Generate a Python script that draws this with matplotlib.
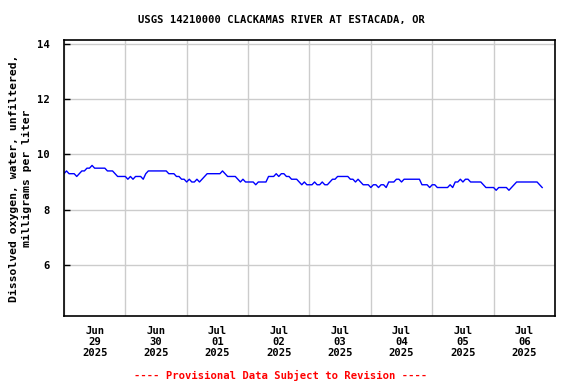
import numpy as np
import pandas as pd
import matplotlib
matplotlib.use('Agg')
import matplotlib.pyplot as plt
import matplotlib.dates as mdates

# Hourly dissolved oxygen (mg/L), starting 2025-06-29 00:00
do_values = [
    9.3, 9.4, 9.3, 9.3, 9.3, 9.2, 9.3, 9.4, 9.4, 9.5, 9.5, 9.6, 9.5, 9.5, 9.5, 9.5,
    9.5, 9.4, 9.4, 9.4, 9.3, 9.2, 9.2, 9.2, 9.2, 9.1, 9.2, 9.1, 9.2, 9.2, 9.2, 9.1,
    9.3, 9.4, 9.4, 9.4, 9.4, 9.4, 9.4, 9.4, 9.4, 9.3, 9.3, 9.3, 9.2, 9.2, 9.1, 9.1,
    9.0, 9.1, 9.0, 9.0, 9.1, 9.0, 9.1, 9.2, 9.3, 9.3, 9.3, 9.3, 9.3, 9.3, 9.4, 9.3,
    9.2, 9.2, 9.2, 9.2, 9.1, 9.0, 9.1, 9.0, 9.0, 9.0, 9.0, 8.9, 9.0, 9.0, 9.0, 9.0,
    9.2, 9.2, 9.2, 9.3, 9.2, 9.3, 9.3, 9.2, 9.2, 9.1, 9.1, 9.1, 9.0, 8.9, 9.0, 8.9,
    8.9, 8.9, 9.0, 8.9, 8.9, 9.0, 8.9, 8.9, 9.0, 9.1, 9.1, 9.2, 9.2, 9.2, 9.2, 9.2,
    9.1, 9.1, 9.0, 9.1, 9.0, 8.9, 8.9, 8.9, 8.8, 8.9, 8.9, 8.8, 8.9, 8.9, 8.8, 9.0,
    9.0, 9.0, 9.1, 9.1, 9.0, 9.1, 9.1, 9.1, 9.1, 9.1, 9.1, 9.1, 8.9, 8.9, 8.9, 8.8,
    8.9, 8.9, 8.8, 8.8, 8.8, 8.8, 8.8, 8.9, 8.8, 9.0, 9.0, 9.1, 9.0, 9.1, 9.1, 9.0,
    9.0, 9.0, 9.0, 9.0, 8.9, 8.8, 8.8, 8.8, 8.8, 8.7, 8.8, 8.8, 8.8, 8.8, 8.7, 8.8,
    8.9, 9.0, 9.0, 9.0, 9.0, 9.0, 9.0, 9.0, 9.0, 9.0, 8.9, 8.8,
]
start = '2025-06-29 00:00'
x_start = '2025-06-29'
x_end = '2025-07-07'
y_ticks = [6, 8, 10, 12, 14]

title = 'USGS 14210000 CLACKAMAS RIVER AT ESTACADA, OR'
ylabel = 'Dissolved oxygen, water, unfiltered,\nmilligrams per liter'
footer = '---- Provisional Data Subject to Revision ----'

times = pd.date_range(start, periods=len(do_values), freq='h')

font = {'family': 'DejaVu Sans Mono', 'weight': 'bold', 'size': 7.6}
label_font = dict(font, size=8.2)

fig = plt.figure(figsize=(5.76, 3.84), dpi=100)
ax = fig.add_axes([0.111, 0.177, 0.8525, 0.719])

ax.plot(times, do_values, color='#0000ff', linewidth=1.0)

ax.set_xlim(pd.Timestamp(x_start), pd.Timestamp(x_end))
ax.set_ylim(4.15, 14.14)

# grid at midnight, labels at noon
days = pd.date_range(x_start, x_end, freq='D')
ax.set_xticks(days, minor=True)
noons = days[:-1] + pd.Timedelta(hours=12)
ax.set_xticks(noons)
ax.set_xticklabels([d.strftime('%b\n%d\n%Y') for d in noons], fontdict=font,
                   linespacing=1.15)
ax.tick_params(axis='x', which='both', length=0, pad=7)
ax.grid(True, axis='x', which='minor', color='#cccccc', linewidth=1)

ax.set_yticks(y_ticks)
ax.set_yticklabels([str(v) for v in y_ticks], fontdict=font)
ax.tick_params(axis='y', direction='in', length=4, width=1, pad=10)
ax.grid(True, axis='y', which='major', color='#cccccc', linewidth=1)
ax.set_axisbelow(True)

for sp in ax.spines.values():
    sp.set_linewidth(1.2)

ax.set_ylabel(ylabel, fontdict=label_font, linespacing=1.3, labelpad=4)
fig.text(0.488, 0.948, title, ha='center', va='center', fontdict=font)
fig.text(0.487, 0.023, footer, ha='center', va='center', fontdict=font,
         color='red')

plt.savefig('out.png', dpi=100)
